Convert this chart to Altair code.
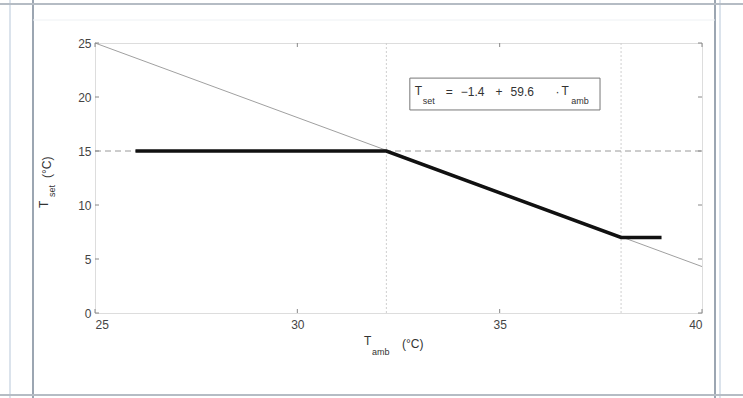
import altair as alt
import pandas as pd

# data
t_amb_thick = [26.0, 32.2, 38.0, 39.0]
t_set_thick = [15.0, 15.0, 7.0, 7.0]
t_amb_thin = [25.0, 40.0]
t_set_thin = [25.0, 4.3]
kinks = [32.2, 38.0]
x_ticks = [25, 30, 35, 40]
y_ticks = [0, 5, 10, 15, 20, 25]

# equation annotation pieces (text, font size, x in T_amb units, y in T_set units)
eq_text = ["T", "set", "=", "\u22121.4", "+", "59.6", "\u00b7", "T", "amb"]
eq_size = [12, 9, 12, 12, 12, 12, 12, 12, 9]
eq_x = [32.90, 33.10, 33.67, 34.04, 34.90, 35.27, 36.38, 36.53, 36.77]
eq_y = [20.55, 19.60, 20.45, 20.45, 20.45, 20.45, 20.45, 20.55, 19.60]
box_x = [32.78, 37.48]
box_y = [21.75, 18.8]

W, H = 607, 270
xs = alt.Scale(domain=[25, 40], nice=False, zero=False)
ys = alt.Scale(domain=[0, 25], nice=False, zero=False)

thick = pd.DataFrame({"x": t_amb_thick, "y": t_set_thick})
thin = pd.DataFrame({"x": t_amb_thin, "y": t_set_thin})
kdf = pd.DataFrame({"x": kinks})

axis_x = alt.Axis(values=x_ticks, grid=False, ticks=False, domain=False,
                  labelFontSize=12, labelColor="#444", labelPadding=6, title=None,
                  labelFont="Liberation Sans")
axis_y = alt.Axis(values=y_ticks, grid=False, ticks=False, domain=False,
                  labelFontSize=12, labelColor="#444", labelPadding=4, title=None,
                  labelFont="Liberation Sans")

X = lambda f="x:Q": alt.X(f, scale=xs, axis=axis_x)
Y = lambda f="y:Q": alt.Y(f, scale=ys, axis=axis_y)

vlines = alt.Chart(kdf).mark_rule(color="#cfcfcf", strokeDash=[2, 2], strokeWidth=1).encode(
    x=X(), y=alt.value(0), y2=alt.value(H))

dash = alt.Chart(pd.DataFrame({"y": [15]})).mark_rule(color="#9a9a9a", strokeDash=[6, 4], strokeWidth=1).encode(
    y=Y(), x=alt.value(0), x2=alt.value(W))

thin_line = alt.Chart(thin).mark_line(color="#a0a0a0", strokeWidth=1).encode(x=X(), y=Y())
thick_line = alt.Chart(thick).mark_line(color="#111111", strokeWidth=3.5).encode(x=X(), y=Y())

# inward ticks
xdf = pd.DataFrame({"x": x_ticks})
ydf = pd.DataFrame({"y": y_ticks})
xt = alt.Chart(xdf).mark_rule(color="#888", strokeWidth=1).encode(x=X(), y=alt.value(H), y2=alt.value(H - 4))
xt2 = alt.Chart(xdf).mark_rule(color="#888", strokeWidth=1).encode(x=X(), y=alt.value(0), y2=alt.value(4))
yt = alt.Chart(ydf).mark_rule(color="#888", strokeWidth=1).encode(y=Y(), x=alt.value(0), x2=alt.value(4))
yt2 = alt.Chart(ydf).mark_rule(color="#888", strokeWidth=1).encode(y=Y(), x=alt.value(W), x2=alt.value(W - 4))

# annotation box
box = alt.Chart(pd.DataFrame({"x": [box_x[0]], "x2": [box_x[1]], "y": [box_y[0]], "y2": [box_y[1]]})).mark_rect(
    fill="white", stroke="#777", strokeWidth=1).encode(x=X(), x2="x2:Q", y=Y(), y2="y2:Q")

ann = pd.DataFrame({"x": eq_x, "y": eq_y, "t": eq_text, "s": eq_size})
ann_text = alt.Chart(ann).mark_text(align="left", baseline="middle", color="#333",
                                    font="Liberation Sans").encode(
    x=X(), y=Y(), text="t:N", size=alt.Size("s:Q", scale=None, legend=None))


def label(txt, px, py, size=12, angle=0):
    kw = dict(align="left", baseline="middle", color="#333", fontSize=size, font="Liberation Sans")
    if angle:
        kw["angle"] = angle
    return alt.Chart(pd.DataFrame({"a": [1]})).mark_text(**kw).encode(
        x=alt.value(px - 95), y=alt.value(py - 43), text=alt.value(txt))


titles = [
    label("T", 364, 341), label("amb", 372, 352, 9), label("(\u00b0C)", 402, 344),
    label("T", 44, 208, 12, 270), label("set", 52, 197, 9, 270), label("(\u00b0C)", 47, 178, 12, 270),
]


# window frame decoration (pixel positions)
def vrule(px, color, w=1.5):
    return alt.Chart(pd.DataFrame({"a": [1]})).mark_rule(color=color, strokeWidth=w).encode(
        x=alt.value(px - 95), x2=alt.value(px - 95), y=alt.value(-43), y2=alt.value(355))


def hrule(py, color, w=1.5, x0=0, x1=743):
    return alt.Chart(pd.DataFrame({"a": [1]})).mark_rule(color=color, strokeWidth=w).encode(
        y=alt.value(py - 43), y2=alt.value(py - 43), x=alt.value(x0 - 95), x2=alt.value(x1 - 95))


frame = [vrule(10, "#dbe3ec", 2), vrule(33, "#9ca6b2", 2), vrule(715, "#9ca6b2", 2),
         vrule(720, "#dbe3ec", 2), hrule(4, "#b5bcc4", 2), hrule(395, "#b5bcc4", 2),
         hrule(20, "#eef1f4", 1, 33, 715)]

chart = alt.layer(vlines, dash, thin_line, thick_line, xt, xt2, yt, yt2, box, ann_text,
                  *titles, *frame).properties(
    width=W, height=H,
    autosize=alt.AutoSizeParams(type="none"),
    padding={"left": 95, "top": 43, "right": 41, "bottom": 85},
).configure_view(stroke="#8a8a8a", strokeWidth=1).configure(background="white")

chart.save("out.html", embed_options={"renderer": "svg", "actions": False})
